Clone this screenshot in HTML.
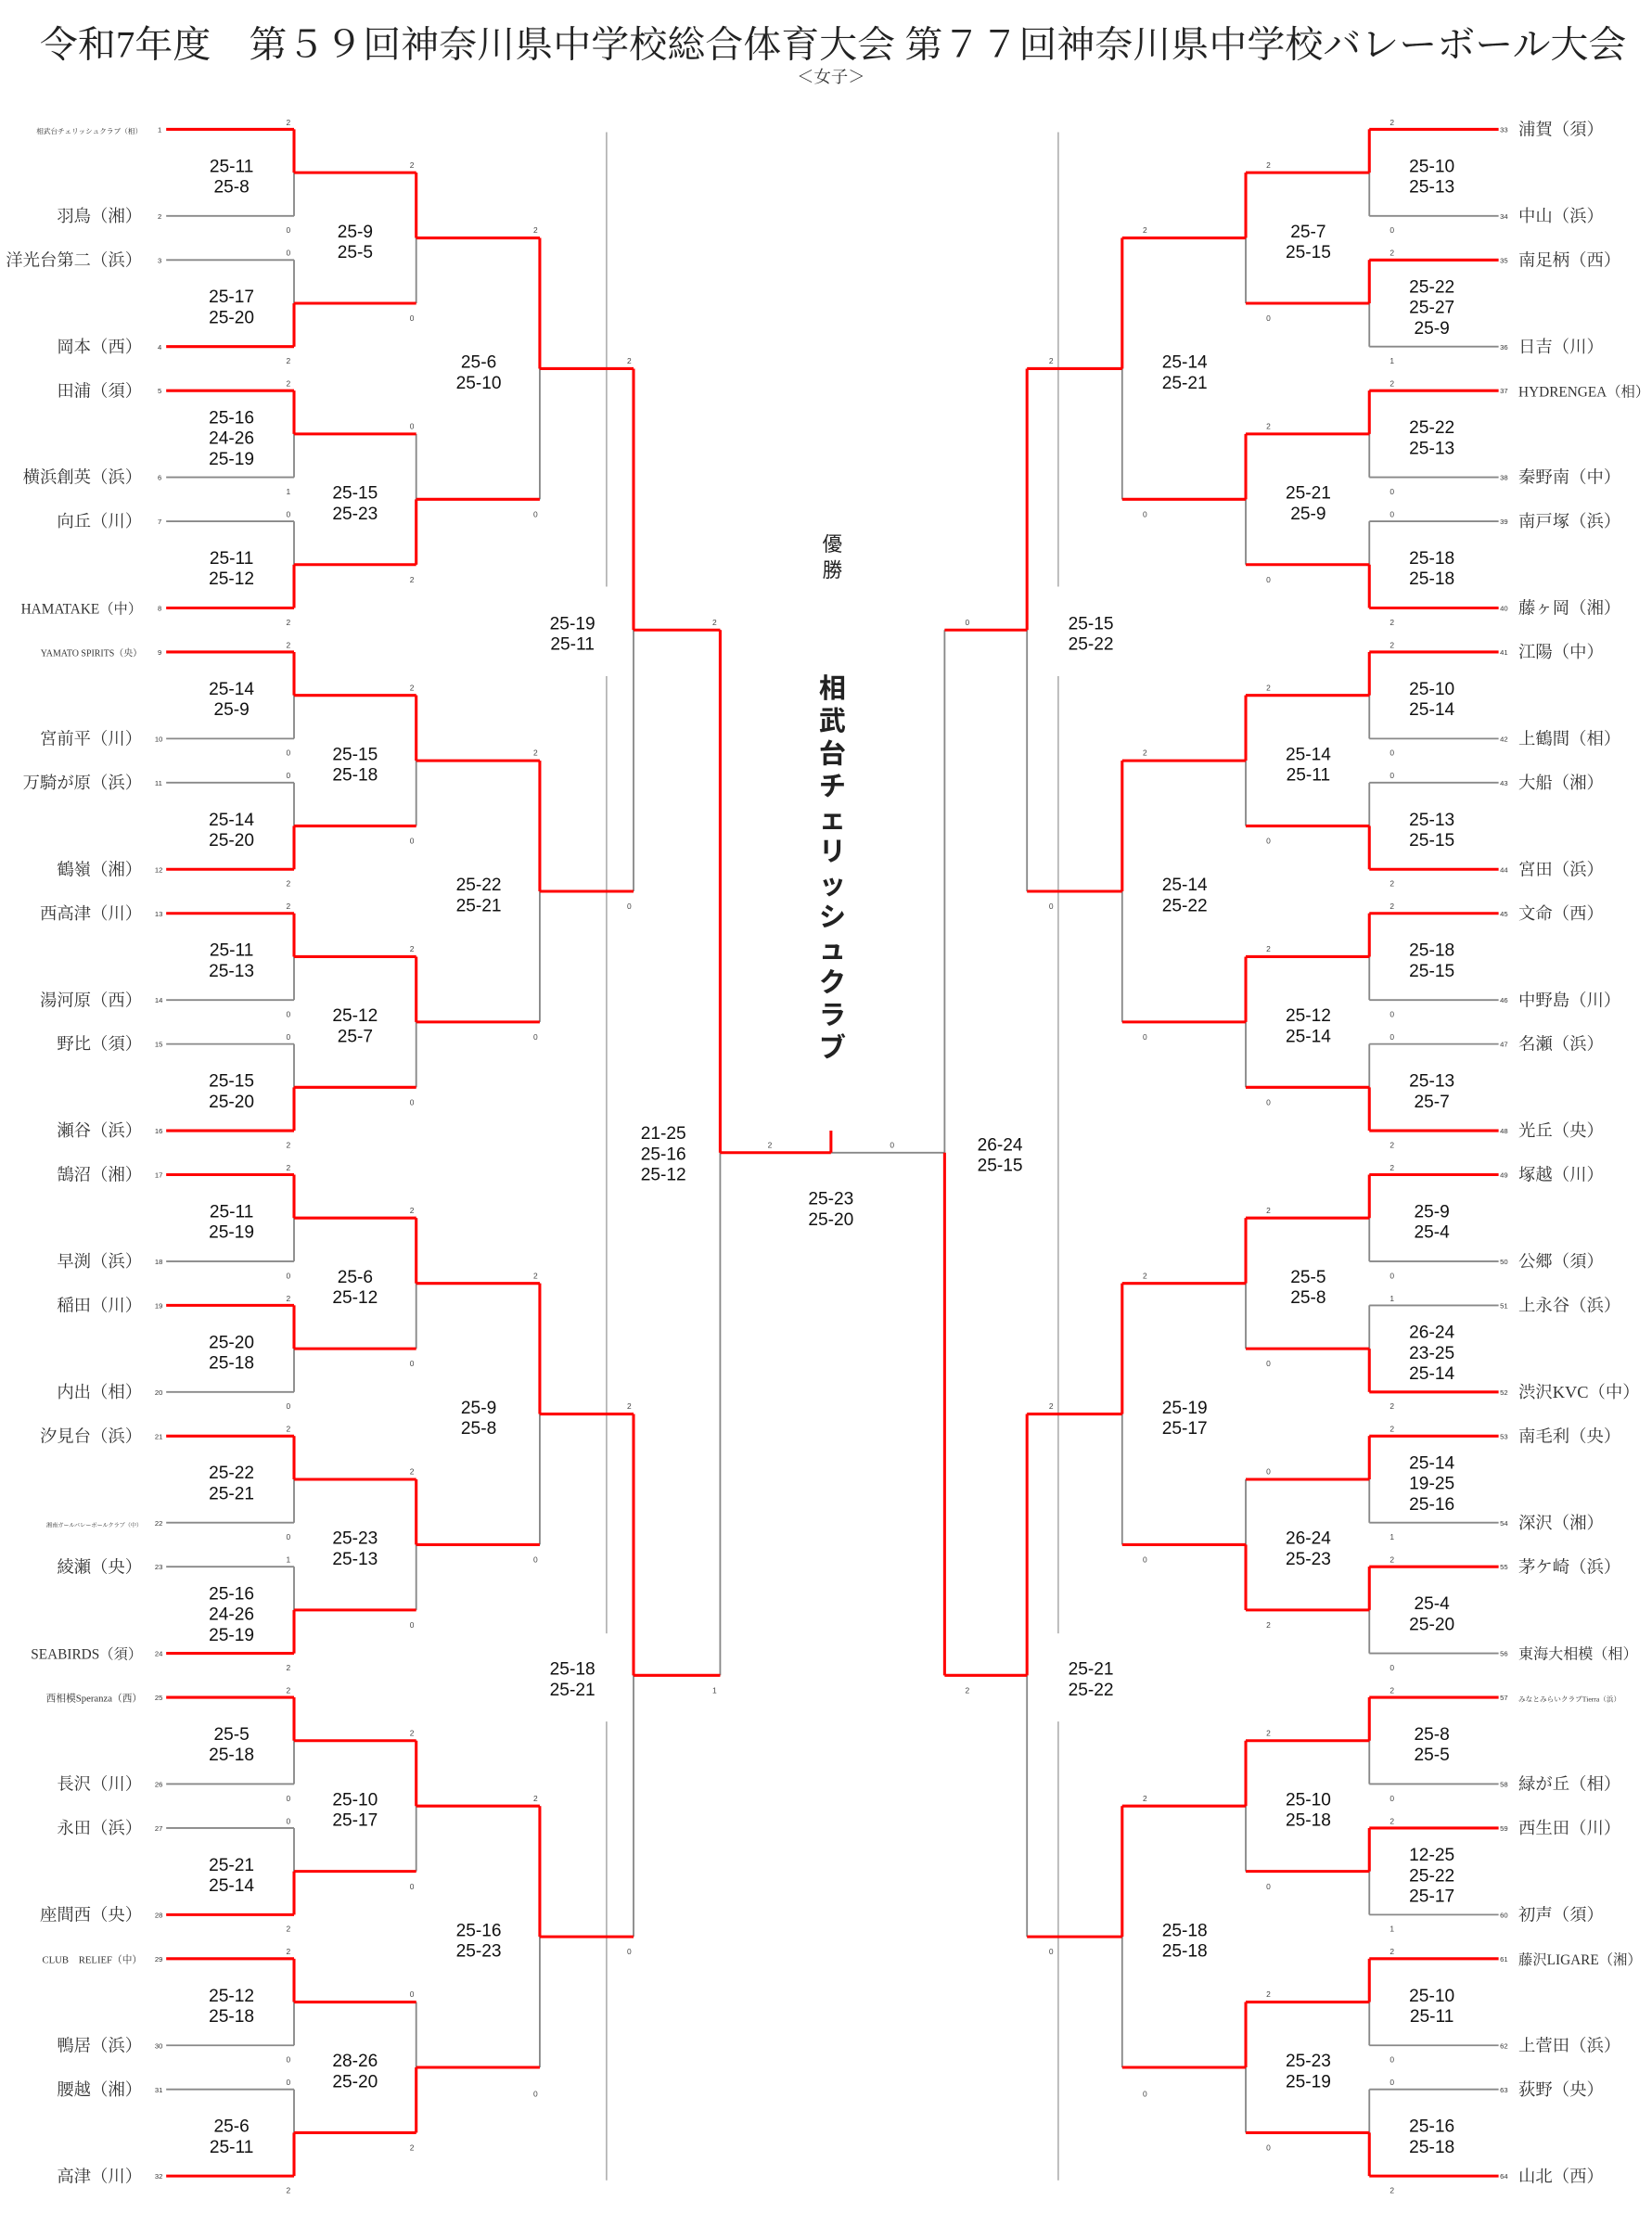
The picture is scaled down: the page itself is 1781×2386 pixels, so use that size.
<!DOCTYPE html>
<html><head><meta charset="utf-8"><style>
html,body{margin:0;padding:0;background:#fff}
svg{display:block}
.t{font-family:"Liberation Serif","Noto Serif CJK SC",serif;font-size:12px;fill:#333}
.tl{text-anchor:end}
.n{font-family:"Liberation Sans",sans-serif;font-size:5px;fill:#333}
.s{font-family:"Liberation Sans Narrow","Liberation Sans",sans-serif;font-size:12.5px;fill:#111;text-anchor:middle}
.k{font-family:"Liberation Sans",sans-serif;font-size:5.5px;fill:#444;text-anchor:middle}
.tiny{font-size:5px}
.sm{font-size:8px}
</style></head><body>
<svg width="1781" height="2386" viewBox="0 0 1163 1558" xmlns="http://www.w3.org/2000/svg">
<text x="28" y="40" textLength="1117" lengthAdjust="spacingAndGlyphs" style="font-family:'Liberation Serif','Noto Serif CJK SC',serif;font-size:26px;fill:#222">令和7年度　第５９回神奈川県中学校総合体育大会 第７７回神奈川県中学校バレーボール大会</text>
<text x="585" y="58" text-anchor="middle" style="font-family:'Liberation Serif','Noto Serif CJK SC',serif;font-size:12px;fill:#333">＜女子＞</text>

<path d="M427 93V413M427 476V1150M427 1212V1535M745 93V413M745 476V1150M745 1212V1535" stroke="#aaa" stroke-width="1" fill="none"/>

<g stroke="#888" stroke-width="1.2" fill="none">
<path d="M117 152H207M117 183H207M117 336H207M117 367H207M117 520H207M117 551H207M117 704H207M117 735H207M117 888H207M117 980H207M117 1072H207M117 1103H207M117 1256H207M117 1287H207M117 1440H207M117 1471H207"/>
<path d="M207 91V152M207 183V244M207 275V336M207 367V428M207 459V520M207 551V612M207 643V704M207 735V796M207 827V888M207 919V980M207 1011V1072M207 1103V1164M207 1195V1256M207 1287V1348M207 1379V1440M207 1471V1532"/>
<path d="M293 121.5V213.5M293 305.5V397.5M293 489.5V581.5M293 673.5V765.5M293 857.5V949.5M293 1041.5V1133.5M293 1225.5V1317.5M293 1409.5V1501.5"/>
<path d="M380 167.5V351.5M380 535.5V719.5M380 903.5V1087.5M380 1271.5V1455.5M446 259.5V627.5M446 995.5V1363.5M507 443.5V1179.5"/>
<path d="M1055 152H964M1055 244H964M1055 336H964M1055 367H964M1055 520H964M1055 551H964M1055 704H964M1055 735H964M1055 888H964M1055 919H964M1055 1072H964M1055 1164H964M1055 1256H964M1055 1348H964M1055 1440H964M1055 1471H964"/>
<path d="M964 91V152M964 183V244M964 275V336M964 367V428M964 459V520M964 551V612M964 643V704M964 735V796M964 827V888M964 919V980M964 1011V1072M964 1103V1164M964 1195V1256M964 1287V1348M964 1379V1440M964 1471V1532"/>
<path d="M877 121.5V213.5M877 305.5V397.5M877 489.5V581.5M877 673.5V765.5M877 857.5V949.5M877 1041.5V1133.5M877 1225.5V1317.5M877 1409.5V1501.5"/>
<path d="M790 167.5V351.5M790 535.5V719.5M790 903.5V1087.5M790 1271.5V1455.5M723 259.5V627.5M723 995.5V1363.5M665 443.5V1179.5M585 811.5H665"/>
</g>

<g stroke="#f00" stroke-width="2" fill="none">
<path d="M117 91H207M117 244H207M117 275H207M117 428H207M117 459H207M117 612H207M117 643H207M117 796H207M117 827H207M117 919H207M117 1011H207M117 1164H207M117 1195H207M117 1348H207M117 1379H207M117 1532H207"/>
<path d="M207 91V121.5M207 213.5V244M207 275V305.5M207 397.5V428M207 459V489.5M207 581.5V612M207 643V673.5M207 765.5V796M207 827V857.5M207 919V949.5M207 1011V1041.5M207 1133.5V1164M207 1195V1225.5M207 1317.5V1348M207 1379V1409.5M207 1501.5V1532"/>
<path d="M207 121.5H293M207 213.5H293M207 305.5H293M207 397.5H293M207 489.5H293M207 581.5H293M207 673.5H293M207 765.5H293M207 857.5H293M207 949.5H293M207 1041.5H293M207 1133.5H293M207 1225.5H293M207 1317.5H293M207 1409.5H293M207 1501.5H293"/>
<path d="M293 121.5V167.5M293 351.5V397.5M293 489.5V535.5M293 673.5V719.5M293 857.5V903.5M293 1041.5V1087.5M293 1225.5V1271.5M293 1455.5V1501.5"/>
<path d="M293 167.5H380M293 351.5H380M293 535.5H380M293 719.5H380M293 903.5H380M293 1087.5H380M293 1271.5H380M293 1455.5H380"/>
<path d="M380 167.5V259.5M380 535.5V627.5M380 903.5V995.5M380 1271.5V1363.5M380 259.5H446M380 627.5H446M380 995.5H446M380 1363.5H446"/>
<path d="M446 259.5V443.5M446 995.5V1179.5M446 443.5H507M446 1179.5H507M507 443.5V811.5M507 811.5H585M585 796V811.5"/>
<path d="M1055 91H964M1055 183H964M1055 275H964M1055 428H964M1055 459H964M1055 612H964M1055 643H964M1055 796H964M1055 827H964M1055 980H964M1055 1011H964M1055 1103H964M1055 1195H964M1055 1287H964M1055 1379H964M1055 1532H964"/>
<path d="M964 91V121.5M964 183V213.5M964 275V305.5M964 397.5V428M964 459V489.5M964 581.5V612M964 643V673.5M964 765.5V796M964 827V857.5M964 949.5V980M964 1011V1041.5M964 1103V1133.5M964 1195V1225.5M964 1287V1317.5M964 1379V1409.5M964 1501.5V1532"/>
<path d="M964 121.5H877M964 213.5H877M964 305.5H877M964 397.5H877M964 489.5H877M964 581.5H877M964 673.5H877M964 765.5H877M964 857.5H877M964 949.5H877M964 1041.5H877M964 1133.5H877M964 1225.5H877M964 1317.5H877M964 1409.5H877M964 1501.5H877"/>
<path d="M877 121.5V167.5M877 305.5V351.5M877 489.5V535.5M877 673.5V719.5M877 857.5V903.5M877 1087.5V1133.5M877 1225.5V1271.5M877 1409.5V1455.5"/>
<path d="M877 167.5H790M877 351.5H790M877 535.5H790M877 719.5H790M877 903.5H790M877 1087.5H790M877 1271.5H790M877 1455.5H790"/>
<path d="M790 167.5V259.5M790 535.5V627.5M790 903.5V995.5M790 1271.5V1363.5M790 259.5H723M790 627.5H723M790 995.5H723M790 1363.5H723"/>
<path d="M723 259.5V443.5M723 995.5V1179.5M723 443.5H665M723 1179.5H665M665 811.5V1179.5"/>
</g>

<g class="t tl">
<text x="100" y="94" class="tiny">相武台チェリッシュクラブ（相）</text>
<text x="100" y="156">羽鳥（湘）</text>
<text x="100" y="187">洋光台第二（浜）</text>
<text x="100" y="248">岡本（西）</text>
<text x="100" y="279">田浦（須）</text>
<text x="100" y="340">横浜創英（浜）</text>
<text x="100" y="371">向丘（川）</text>
<text x="100" y="432" style="font-size:10px">HAMATAKE（中）</text>
<text x="100" y="462" style="font-size:6.5px">YAMATO SPIRITS（央）</text>
<text x="100" y="524">宮前平（川）</text>
<text x="100" y="555">万騎が原（浜）</text>
<text x="100" y="616">鶴嶺（湘）</text>
<text x="100" y="647">西高津（川）</text>
<text x="100" y="708">湯河原（西）</text>
<text x="100" y="739">野比（須）</text>
<text x="100" y="800">瀬谷（浜）</text>
<text x="100" y="831">鵠沼（湘）</text>
<text x="100" y="892">早渕（浜）</text>
<text x="100" y="923">稲田（川）</text>
<text x="100" y="984">内出（相）</text>
<text x="100" y="1015">汐見台（浜）</text>
<text x="100" y="1075" style="font-size:4px">湘南ガールバレーボールクラブ（中）</text>
<text x="100" y="1107">綾瀬（央）</text>
<text x="100" y="1168" style="font-size:10px">SEABIRDS（須）</text>
<text x="100" y="1198" style="font-size:7px">西相模Speranza（西）</text>
<text x="100" y="1260">長沢（川）</text>
<text x="100" y="1291">永田（浜）</text>
<text x="100" y="1352">座間西（央）</text>
<text x="100" y="1382" style="font-size:7px">CLUB　RELIEF（中）</text>
<text x="100" y="1444">鴨居（浜）</text>
<text x="100" y="1475">腰越（湘）</text>
<text x="100" y="1536">高津（川）</text>
</g>
<g class="n">
<text x="111" y="93">1</text><text x="111" y="154">2</text><text x="111" y="185">3</text><text x="111" y="246">4</text><text x="111" y="277">5</text><text x="111" y="338">6</text><text x="111" y="369">7</text><text x="111" y="430">8</text><text x="111" y="461">9</text><text x="109" y="522">10</text><text x="109" y="553">11</text><text x="109" y="614">12</text><text x="109" y="645">13</text><text x="109" y="706">14</text><text x="109" y="737">15</text><text x="109" y="798">16</text><text x="109" y="829">17</text><text x="109" y="890">18</text><text x="109" y="921">19</text><text x="109" y="982">20</text><text x="109" y="1013">21</text><text x="109" y="1074">22</text><text x="109" y="1105">23</text><text x="109" y="1166">24</text><text x="109" y="1197">25</text><text x="109" y="1258">26</text><text x="109" y="1289">27</text><text x="109" y="1350">28</text><text x="109" y="1381">29</text><text x="109" y="1442">30</text><text x="109" y="1473">31</text><text x="109" y="1534">32</text>
<text x="1056" y="93">33</text><text x="1056" y="154">34</text><text x="1056" y="185">35</text><text x="1056" y="246">36</text><text x="1056" y="277">37</text><text x="1056" y="338">38</text><text x="1056" y="369">39</text><text x="1056" y="430">40</text><text x="1056" y="461">41</text><text x="1056" y="522">42</text><text x="1056" y="553">43</text><text x="1056" y="614">44</text><text x="1056" y="645">45</text><text x="1056" y="706">46</text><text x="1056" y="737">47</text><text x="1056" y="798">48</text><text x="1056" y="829">49</text><text x="1056" y="890">50</text><text x="1056" y="921">51</text><text x="1056" y="982">52</text><text x="1056" y="1013">53</text><text x="1056" y="1074">54</text><text x="1056" y="1105">55</text><text x="1056" y="1166">56</text><text x="1056" y="1197">57</text><text x="1056" y="1258">58</text><text x="1056" y="1289">59</text><text x="1056" y="1350">60</text><text x="1056" y="1381">61</text><text x="1056" y="1442">62</text><text x="1056" y="1473">63</text><text x="1056" y="1534">64</text>
</g>

<g class="t">
<text x="1069" y="95">浦賀（須）</text>
<text x="1069" y="156">中山（浜）</text>
<text x="1069" y="187">南足柄（西）</text>
<text x="1069" y="248">日吉（川）</text>
<text x="1069" y="279" style="font-size:10px">HYDRENGEA（相）</text>
<text x="1069" y="340">秦野南（中）</text>
<text x="1069" y="371">南戸塚（浜）</text>
<text x="1069" y="432">藤ヶ岡（湘）</text>
<text x="1069" y="463">江陽（中）</text>
<text x="1069" y="524">上鶴間（相）</text>
<text x="1069" y="555">大船（湘）</text>
<text x="1069" y="616">宮田（浜）</text>
<text x="1069" y="647">文命（西）</text>
<text x="1069" y="708">中野島（川）</text>
<text x="1069" y="739">名瀬（浜）</text>
<text x="1069" y="800">光丘（央）</text>
<text x="1069" y="831">塚越（川）</text>
<text x="1069" y="892">公郷（須）</text>
<text x="1069" y="923">上永谷（浜）</text>
<text x="1069" y="984">渋沢KVC（中）</text>
<text x="1069" y="1015">南毛利（央）</text>
<text x="1069" y="1076">深沢（湘）</text>
<text x="1069" y="1107">茅ケ崎（浜）</text>
<text x="1069" y="1168" style="font-size:10.5px">東海大相模（相）</text>
<text x="1069" y="1198" class="tiny">みなとみらいクラブTierra（浜）</text>
<text x="1069" y="1260">緑が丘（相）</text>
<text x="1069" y="1291">西生田（川）</text>
<text x="1069" y="1352">初声（須）</text>
<text x="1069" y="1383" style="font-size:10px">藤沢LIGARE（湘）</text>
<text x="1069" y="1444">上菅田（浜）</text>
<text x="1069" y="1475">荻野（央）</text>
<text x="1069" y="1536">山北（西）</text>
</g>

<g class="k">
<text x="203" y="88">2</text><text x="203" y="164">0</text><text x="203" y="180">0</text><text x="203" y="256">2</text><text x="203" y="272">2</text><text x="203" y="348">1</text><text x="203" y="364">0</text><text x="203" y="440">2</text><text x="203" y="456">2</text><text x="203" y="532">0</text><text x="203" y="548">0</text><text x="203" y="624">2</text><text x="203" y="640">2</text><text x="203" y="716">0</text><text x="203" y="732">0</text><text x="203" y="808">2</text><text x="203" y="824">2</text><text x="203" y="900">0</text><text x="203" y="916">2</text><text x="203" y="992">0</text><text x="203" y="1008">2</text><text x="203" y="1084">0</text><text x="203" y="1100">1</text><text x="203" y="1176">2</text><text x="203" y="1192">2</text><text x="203" y="1268">0</text><text x="203" y="1284">0</text><text x="203" y="1360">2</text><text x="203" y="1376">2</text><text x="203" y="1452">0</text><text x="203" y="1468">0</text><text x="203" y="1544">2</text>
<text x="290" y="118">2</text><text x="290" y="226">0</text><text x="290" y="302">0</text><text x="290" y="410">2</text><text x="290" y="486">2</text><text x="290" y="594">0</text><text x="290" y="670">2</text><text x="290" y="778">0</text><text x="290" y="854">2</text><text x="290" y="962">0</text><text x="290" y="1038">2</text><text x="290" y="1146">0</text><text x="290" y="1222">2</text><text x="290" y="1330">0</text><text x="290" y="1406">0</text><text x="290" y="1514">2</text>
<text x="377" y="164">2</text><text x="377" y="364">0</text><text x="377" y="532">2</text><text x="377" y="732">0</text><text x="377" y="900">2</text><text x="377" y="1100">0</text><text x="377" y="1268">2</text><text x="377" y="1476">0</text>
<text x="443" y="256">2</text><text x="443" y="640">0</text><text x="443" y="992">2</text><text x="443" y="1376">0</text>
<text x="503" y="440">2</text><text x="503" y="1192">1</text>
<text x="542" y="808">2</text><text x="628" y="808">0</text>
<text x="980" y="88">2</text><text x="980" y="164">0</text><text x="980" y="180">2</text><text x="980" y="256">1</text><text x="980" y="272">2</text><text x="980" y="348">0</text><text x="980" y="364">0</text><text x="980" y="440">2</text><text x="980" y="456">2</text><text x="980" y="532">0</text><text x="980" y="548">0</text><text x="980" y="624">2</text><text x="980" y="640">2</text><text x="980" y="716">0</text><text x="980" y="732">0</text><text x="980" y="808">2</text><text x="980" y="824">2</text><text x="980" y="900">0</text><text x="980" y="916">1</text><text x="980" y="992">2</text><text x="980" y="1008">2</text><text x="980" y="1084">1</text><text x="980" y="1100">2</text><text x="980" y="1176">0</text><text x="980" y="1192">2</text><text x="980" y="1268">0</text><text x="980" y="1284">2</text><text x="980" y="1360">1</text><text x="980" y="1376">2</text><text x="980" y="1452">0</text><text x="980" y="1468">0</text><text x="980" y="1544">2</text>
<text x="893" y="118">2</text><text x="893" y="226">0</text><text x="893" y="302">2</text><text x="893" y="410">0</text><text x="893" y="486">2</text><text x="893" y="594">0</text><text x="893" y="670">2</text><text x="893" y="778">0</text><text x="893" y="854">2</text><text x="893" y="962">0</text><text x="893" y="1038">0</text><text x="893" y="1146">2</text><text x="893" y="1222">2</text><text x="893" y="1330">0</text><text x="893" y="1406">2</text><text x="893" y="1514">0</text>
<text x="806" y="164">2</text><text x="806" y="364">0</text><text x="806" y="532">2</text><text x="806" y="732">0</text><text x="806" y="900">2</text><text x="806" y="1100">0</text><text x="806" y="1268">2</text><text x="806" y="1476">0</text>
<text x="740" y="256">2</text><text x="740" y="640">0</text><text x="740" y="992">2</text><text x="740" y="1376">0</text>
<text x="681" y="440">0</text><text x="681" y="1192">2</text>
</g>

<g class="s">
<text x="163" y="121">25-11<tspan x="163" dy="14.5">25-8</tspan></text>
<text x="163" y="213">25-17<tspan x="163" dy="14.5">25-20</tspan></text>
<text x="163" y="298">25-16<tspan x="163" dy="14.5">24-26</tspan><tspan x="163" dy="14.5">25-19</tspan></text>
<text x="163" y="397">25-11<tspan x="163" dy="14.5">25-12</tspan></text>
<text x="163" y="489">25-14<tspan x="163" dy="14.5">25-9</tspan></text>
<text x="163" y="581">25-14<tspan x="163" dy="14.5">25-20</tspan></text>
<text x="163" y="673">25-11<tspan x="163" dy="14.5">25-13</tspan></text>
<text x="163" y="765">25-15<tspan x="163" dy="14.5">25-20</tspan></text>
<text x="163" y="857">25-11<tspan x="163" dy="14.5">25-19</tspan></text>
<text x="163" y="949">25-20<tspan x="163" dy="14.5">25-18</tspan></text>
<text x="163" y="1041">25-22<tspan x="163" dy="14.5">25-21</tspan></text>
<text x="163" y="1126">25-16<tspan x="163" dy="14.5">24-26</tspan><tspan x="163" dy="14.5">25-19</tspan></text>
<text x="163" y="1225">25-5<tspan x="163" dy="14.5">25-18</tspan></text>
<text x="163" y="1317">25-21<tspan x="163" dy="14.5">25-14</tspan></text>
<text x="163" y="1409">25-12<tspan x="163" dy="14.5">25-18</tspan></text>
<text x="163" y="1501">25-6<tspan x="163" dy="14.5">25-11</tspan></text>
<text x="250" y="167">25-9<tspan x="250" dy="14.5">25-5</tspan></text>
<text x="250" y="351">25-15<tspan x="250" dy="14.5">25-23</tspan></text>
<text x="250" y="535">25-15<tspan x="250" dy="14.5">25-18</tspan></text>
<text x="250" y="719">25-12<tspan x="250" dy="14.5">25-7</tspan></text>
<text x="250" y="903">25-6<tspan x="250" dy="14.5">25-12</tspan></text>
<text x="250" y="1087">25-23<tspan x="250" dy="14.5">25-13</tspan></text>
<text x="250" y="1271">25-10<tspan x="250" dy="14.5">25-17</tspan></text>
<text x="250" y="1455">28-26<tspan x="250" dy="14.5">25-20</tspan></text>
<text x="337" y="259">25-6<tspan x="337" dy="14.5">25-10</tspan></text>
<text x="337" y="627">25-22<tspan x="337" dy="14.5">25-21</tspan></text>
<text x="337" y="995">25-9<tspan x="337" dy="14.5">25-8</tspan></text>
<text x="337" y="1363">25-16<tspan x="337" dy="14.5">25-23</tspan></text>
<text x="403" y="443">25-19<tspan x="403" dy="14.5">25-11</tspan></text>
<text x="403" y="1179">25-18<tspan x="403" dy="14.5">25-21</tspan></text>
<text x="467" y="802">21-25<tspan x="467" dy="14.5">25-16</tspan><tspan x="467" dy="14.5">25-12</tspan></text>
<text x="585" y="848">25-23<tspan x="585" dy="14.5">25-20</tspan></text>
<text x="704" y="810">26-24<tspan x="704" dy="14.5">25-15</tspan></text>
<text x="768" y="443">25-15<tspan x="768" dy="14.5">25-22</tspan></text>
<text x="768" y="1179">25-21<tspan x="768" dy="14.5">25-22</tspan></text>
<text x="834" y="259">25-14<tspan x="834" dy="14.5">25-21</tspan></text>
<text x="834" y="627">25-14<tspan x="834" dy="14.5">25-22</tspan></text>
<text x="834" y="995">25-19<tspan x="834" dy="14.5">25-17</tspan></text>
<text x="834" y="1363">25-18<tspan x="834" dy="14.5">25-18</tspan></text>
<text x="921" y="167">25-7<tspan x="921" dy="14.5">25-15</tspan></text>
<text x="921" y="351">25-21<tspan x="921" dy="14.5">25-9</tspan></text>
<text x="921" y="535">25-14<tspan x="921" dy="14.5">25-11</tspan></text>
<text x="921" y="719">25-12<tspan x="921" dy="14.5">25-14</tspan></text>
<text x="921" y="903">25-5<tspan x="921" dy="14.5">25-8</tspan></text>
<text x="921" y="1087">26-24<tspan x="921" dy="14.5">25-23</tspan></text>
<text x="921" y="1271">25-10<tspan x="921" dy="14.5">25-18</tspan></text>
<text x="921" y="1455">25-23<tspan x="921" dy="14.5">25-19</tspan></text>
<text x="1008" y="121">25-10<tspan x="1008" dy="14.5">25-13</tspan></text>
<text x="1008" y="206">25-22<tspan x="1008" dy="14.5">25-27</tspan><tspan x="1008" dy="14.5">25-9</tspan></text>
<text x="1008" y="305">25-22<tspan x="1008" dy="14.5">25-13</tspan></text>
<text x="1008" y="397">25-18<tspan x="1008" dy="14.5">25-18</tspan></text>
<text x="1008" y="489">25-10<tspan x="1008" dy="14.5">25-14</tspan></text>
<text x="1008" y="581">25-13<tspan x="1008" dy="14.5">25-15</tspan></text>
<text x="1008" y="673">25-18<tspan x="1008" dy="14.5">25-15</tspan></text>
<text x="1008" y="765">25-13<tspan x="1008" dy="14.5">25-7</tspan></text>
<text x="1008" y="857">25-9<tspan x="1008" dy="14.5">25-4</tspan></text>
<text x="1008" y="942">26-24<tspan x="1008" dy="14.5">23-25</tspan><tspan x="1008" dy="14.5">25-14</tspan></text>
<text x="1008" y="1034">25-14<tspan x="1008" dy="14.5">19-25</tspan><tspan x="1008" dy="14.5">25-16</tspan></text>
<text x="1008" y="1133">25-4<tspan x="1008" dy="14.5">25-20</tspan></text>
<text x="1008" y="1225">25-8<tspan x="1008" dy="14.5">25-5</tspan></text>
<text x="1008" y="1310">12-25<tspan x="1008" dy="14.5">25-22</tspan><tspan x="1008" dy="14.5">25-17</tspan></text>
<text x="1008" y="1409">25-10<tspan x="1008" dy="14.5">25-11</tspan></text>
<text x="1008" y="1501">25-16<tspan x="1008" dy="14.5">25-18</tspan></text>
</g>

<g style="font-family:'Liberation Sans','Noto Sans CJK JP',sans-serif;fill:#222" text-anchor="middle">
<text x="586" y="388" font-size="14">優</text>
<text x="586" y="406" font-size="14">勝</text>
<g font-size="19" font-weight="bold">
<text x="586" y="491">相</text>
<text x="586" y="514">武</text>
<text x="586" y="537">台</text>
<text x="586" y="560">チ</text>
<text x="586" y="583">ェ</text>
<text x="586" y="606">リ</text>
<text x="586" y="629">ッ</text>
<text x="586" y="652">シ</text>
<text x="586" y="675">ュ</text>
<text x="586" y="698">ク</text>
<text x="586" y="721">ラ</text>
<text x="586" y="744">ブ</text>
</g>
</g>
</svg>
</body></html>
